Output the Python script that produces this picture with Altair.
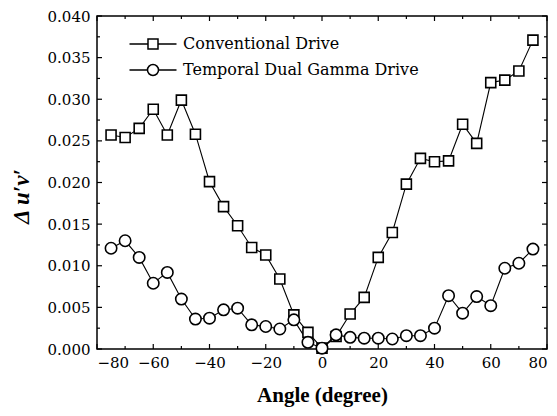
import altair as alt
import pandas as pd

# ---- data ----
angles = [-75, -70, -65, -60, -55, -50, -45, -40, -35, -30, -25, -20, -15, -10, -5,
          0, 5, 10, 15, 20, 25, 30, 35, 40, 45, 50, 55, 60, 65, 70, 75]
conventional = [0.0257, 0.0254, 0.0265, 0.0288, 0.0257, 0.0299, 0.0258, 0.0201, 0.0171, 0.0148,
                0.0122, 0.0113, 0.0084, 0.0041, 0.0020, 0.0001, 0.0015, 0.0042, 0.0062, 0.0110,
                0.0140, 0.0198, 0.0229, 0.0225, 0.0226, 0.0270, 0.0247, 0.0320, 0.0323, 0.0334, 0.0371]
dual_gamma = [0.0121, 0.0130, 0.0110, 0.0079, 0.0092, 0.0060, 0.0036, 0.0037, 0.0047, 0.0049,
              0.0029, 0.0027, 0.0024, 0.0035, 0.0008, 0.0001, 0.0017, 0.0014, 0.0013, 0.0013,
              0.0012, 0.0016, 0.0016, 0.0025, 0.0064, 0.0043, 0.0063, 0.0052, 0.0097, 0.0103, 0.0120]
series_names = ["Conventional Drive", "Temporal Dual Gamma Drive"]

x_major = [-80, -60, -40, -20, 0, 20, 40, 60, 80]
x_minor = [-70, -50, -30, -10, 10, 30, 50, 70]
y_major = [0.0, 0.005, 0.010, 0.015, 0.020, 0.025, 0.030, 0.035, 0.040]
y_minor = [0.0025, 0.0075, 0.0125, 0.0175, 0.0225, 0.0275, 0.0325, 0.0375]

# ---- layout constants ----
W, H = 450, 333
XD = [-80, 80]
YD = [0.0, 0.04]
FONT = "DejaVu Serif"           # regular-weight serif text
BOLD_FONT = "Liberation Serif"  # bold titles
MAJ, MIN = 5, 3  # inward tick lengths in px

rows = []
for name, vals in zip(series_names, [conventional, dual_gamma]):
    for a, v in zip(angles, vals):
        rows.append({"x": a, "y": v, "series": name})
df = pd.DataFrame(rows)

dx = lambda px: px / W * (XD[1] - XD[0])
dy = lambda px: px / H * (YD[1] - YD[0])
tick_rows = []
for vals, L in [(x_major, MAJ), (x_minor, MIN)]:
    for v in vals:
        tick_rows.append({"x": v, "x2": v, "y": YD[0], "y2": YD[0] + dy(L)})
        tick_rows.append({"x": v, "x2": v, "y": YD[1], "y2": YD[1] - dy(L)})
for vals, L in [(y_major, MAJ), (y_minor, MIN)]:
    for v in vals:
        tick_rows.append({"x": XD[0], "x2": XD[0] + dx(L), "y": v, "y2": v})
        tick_rows.append({"x": XD[1], "x2": XD[1] - dx(L), "y": v, "y2": v})
ticks_df = pd.DataFrame(tick_rows)

x_scale = alt.Scale(domain=XD, nice=False, zero=False)
y_scale = alt.Scale(domain=YD, nice=False, zero=False)
x_axis = alt.Axis(values=x_major, ticks=False, domain=False, grid=False, labelFont=FONT,
                  labelFontSize=15, labelColor="black", labelPadding=6, title="Angle (degree)",
                  titleFont=BOLD_FONT, titleFontSize=21, titleFontWeight="bold",
                  titleColor="black", titlePadding=14)
y_axis = alt.Axis(values=y_major, format=".3f", ticks=False, domain=False, grid=False,
                  labelFont=FONT, labelFontSize=15, labelColor="black", labelPadding=7,
                  title="\u0394 u\u2032v\u2032", titleFont=BOLD_FONT, titleFontSize=23,
                  titleFontWeight="bold", titleFontStyle="italic", titleColor="black",
                  titleX=-64, titleY=180)

X = alt.X("x:Q", scale=x_scale, axis=x_axis)
Y = alt.Y("y:Q", scale=y_scale, axis=y_axis)

ticks = alt.Chart(ticks_df).mark_rule(color="black", strokeWidth=1.2).encode(
    x=X, x2="x2:Q", y=Y, y2="y2:Q")

lines = alt.Chart(df).mark_line(color="black", strokeWidth=1.1).encode(
    x=X, y=Y, detail="series:N")

points = alt.Chart(df).mark_point(filled=True, fill="white", stroke="black", strokeWidth=1.6,
                                  opacity=1).encode(
    x=X, y=Y,
    shape=alt.Shape("series:N", scale=alt.Scale(domain=series_names, range=["square", "circle"]),
                    legend=None),
    size=alt.Size("series:N", scale=alt.Scale(domain=series_names, range=[100, 130]), legend=None),
)

sq_path = "M-4.7,0H-1M-1,-1H1V1H-1ZM1,0H4.7"
ci_path = "M-4.7,0H-1.1M-1.1,0A1.1,1.1,0,1,0,1.1,0A1.1,1.1,0,1,0,-1.1,0M1.1,0H4.7"

legend_layer = alt.Chart(df).mark_point(opacity=0, filled=False).encode(
    x=X, y=Y,
    shape=alt.Shape("series:N", scale=alt.Scale(domain=series_names, range=[sq_path, ci_path]),
                    legend=alt.Legend(title=None, orient="none", legendX=48, legendY=20,
                                      symbolSize=100, symbolStrokeColor="black",
                                      symbolFillColor="white", symbolStrokeWidth=1.5,
                                      symbolOpacity=1, labelFont=FONT, labelFontSize=16,
                                      labelColor="black", labelOffset=22, rowPadding=9,
                                      padding=0, labelLimit=400)),
)

chart = alt.layer(ticks, lines, points, legend_layer).resolve_scale(
    shape="independent", size="independent"
).properties(
    width=W, height=H,
    autosize=alt.AutoSizeParams(type="none"),
    padding={"left": 89, "top": 8, "right": 2, "bottom": 59},
    background="white",
).configure(font=FONT).configure_view(stroke="black", strokeWidth=1.5)

chart.save("out.html", embed_options={"renderer": "svg", "actions": False})
